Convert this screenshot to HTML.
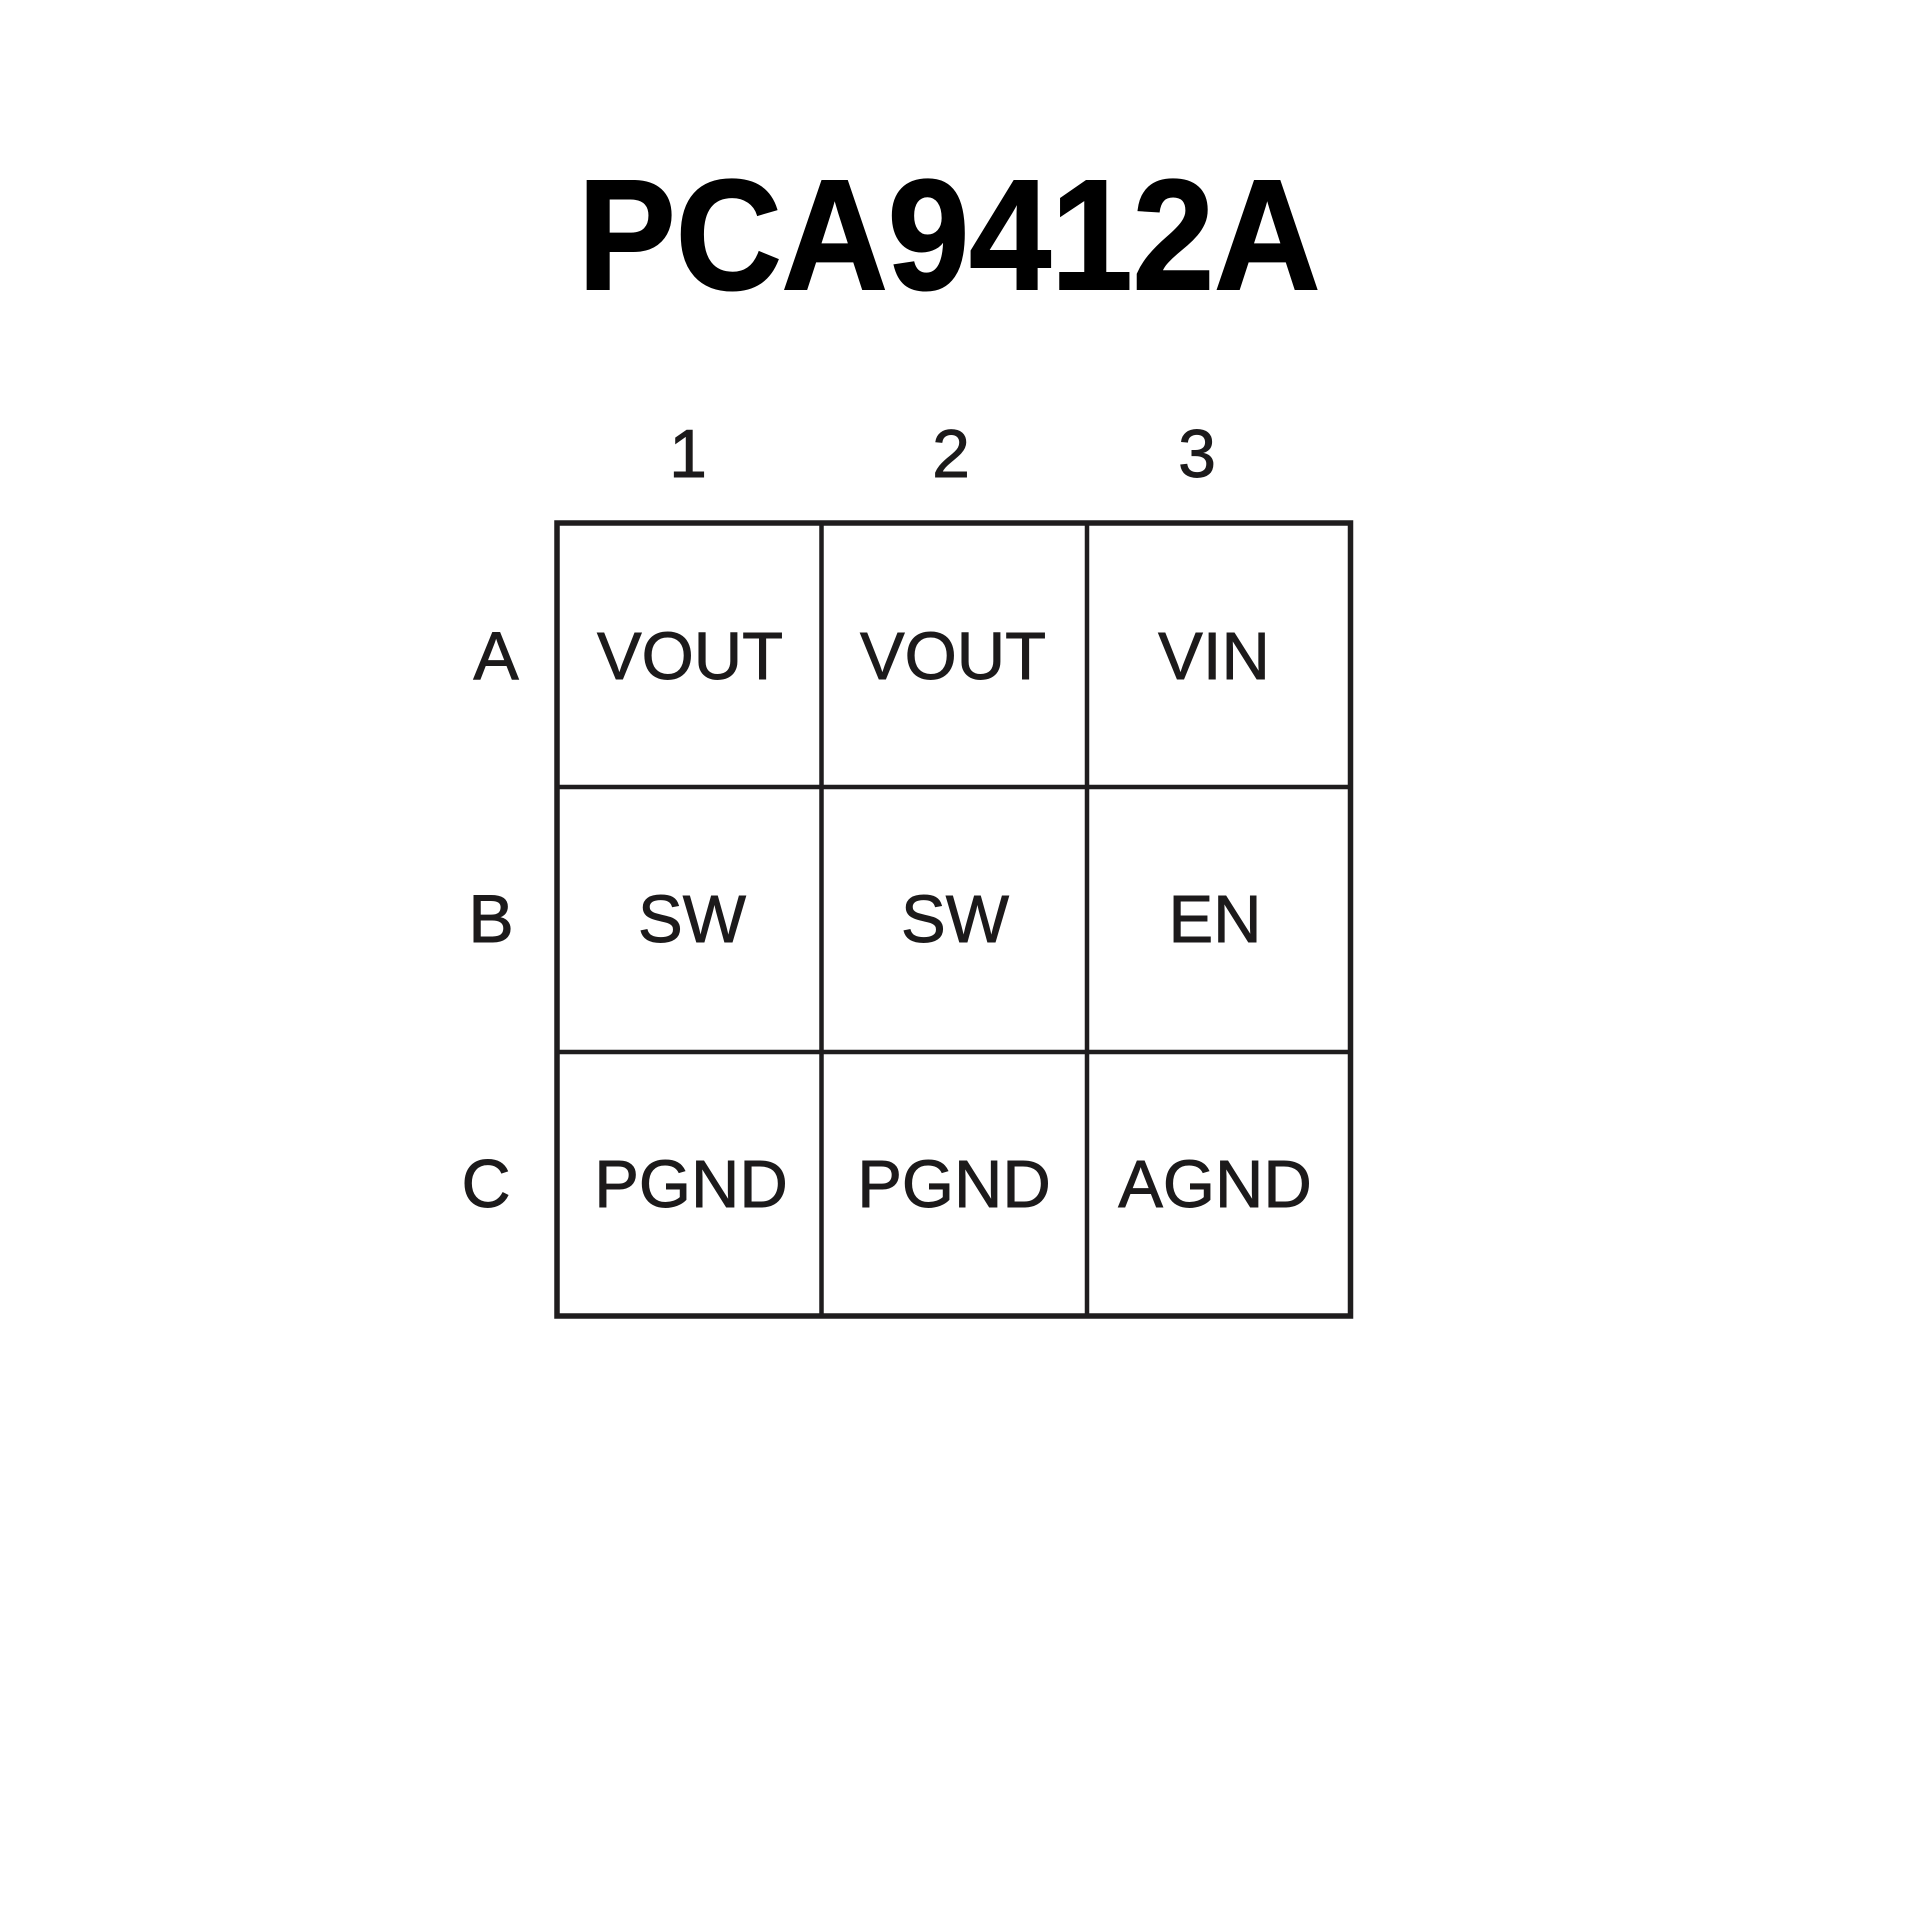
<!DOCTYPE html>
<html>
<head>
<meta charset="utf-8">
<style>
  html, body { margin: 0; padding: 0; background: #ffffff; }
  body { width: 1920px; height: 1920px; overflow: hidden; }
  svg { display: block; }
  .t { font-family: "Liberation Sans", Arial, sans-serif; fill: #1c1a1b; stroke: #1c1a1b; stroke-width: 0.9; }
</style>
</head>
<body>
<svg width="1920" height="1920" viewBox="0 0 1920 1920" xmlns="http://www.w3.org/2000/svg">
  <rect x="0" y="0" width="1920" height="1920" fill="#ffffff"/>

  <!-- Title -->
  <g transform="translate(949,289) scale(0.935,1)">
    <text x="0" y="0" text-anchor="middle" font-family="Liberation Sans, Arial, sans-serif" font-weight="bold" font-size="157" fill="#000000" stroke="#000000" stroke-width="2">PCA9412A</text>
  </g>

  <!-- Column numbers -->
  <text class="t" x="688" y="477" text-anchor="middle" font-size="68">1</text>
  <text class="t" x="951" y="477" text-anchor="middle" font-size="68">2</text>
  <text class="t" x="1197" y="477" text-anchor="middle" font-size="68">3</text>

  <!-- Row labels -->
  <text class="t" x="496" y="679" text-anchor="middle" font-size="68">A</text>
  <text class="t" x="491" y="942" text-anchor="middle" font-size="68">B</text>
  <text class="t" x="486" y="1207" text-anchor="middle" font-size="68">C</text>

  <!-- Grid -->
  <g stroke="#1f1d1e" fill="none">
    <line x1="821.5" y1="523" x2="821.5" y2="1316" stroke-width="4.5"/>
    <line x1="1087" y1="523" x2="1087" y2="1316" stroke-width="4.5"/>
    <line x1="557" y1="787" x2="1350.5" y2="787" stroke-width="4.5"/>
    <line x1="557" y1="1052" x2="1350.5" y2="1052" stroke-width="4.5"/>
    <rect x="557" y="523" width="793.5" height="793" stroke-width="5.5"/>
  </g>

  <!-- Cell labels -->
  <g font-size="67" text-anchor="middle">
    <text class="t" x="690" y="679">VOUT</text>
    <text class="t" x="953" y="679">VOUT</text>
    <text class="t" x="1214" y="679">VIN</text>

    <text class="t" x="692" y="942">SW</text>
    <text class="t" x="955" y="942">SW</text>
    <text class="t" x="1215" y="942">EN</text>

    <text class="t" x="691" y="1207">PGND</text>
    <text class="t" x="954" y="1207">PGND</text>
    <text class="t" x="1215" y="1207">AGND</text>
  </g>
</svg>
</body>
</html>
